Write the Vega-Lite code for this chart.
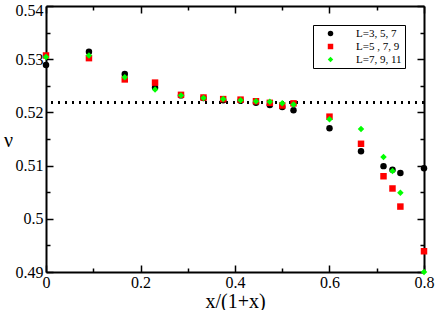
{
  "$schema": "https://vega.github.io/schema/vega-lite/v6.json",
  "width": 378,
  "height": 266,
  "autosize": "none",
  "padding": {"left": 46, "top": 6, "right": 12, "bottom": 38},
  "background": "white",
  "config": {
    "view": {"stroke": null},
    "font": "Liberation Serif",
    "axis": {
      "grid": false,
      "domainColor": "black",
      "domainWidth": 2,
      "tickColor": "black",
      "tickWidth": 1.5,
      "labelFont": "Liberation Serif",
      "labelFontSize": 16,
      "labelColor": "black",
      "labelOverlap": false,
      "labelFlush": false,
      "titleFont": "Liberation Serif",
      "titleFontWeight": "normal",
      "titleColor": "black",
      "titleFontSize": 20
    }
  },
  "datasets": {
    "pts": [
      {"s": "L=3, 5, 7", "x": 0, "y": 0.5289},
      {"s": "L=3, 5, 7", "x": 0.0909, "y": 0.5314},
      {"s": "L=3, 5, 7", "x": 0.1667, "y": 0.5272},
      {"s": "L=3, 5, 7", "x": 0.2308, "y": 0.5247},
      {"s": "L=3, 5, 7", "x": 0.2857, "y": 0.5232},
      {"s": "L=3, 5, 7", "x": 0.3333, "y": 0.5227},
      {"s": "L=3, 5, 7", "x": 0.375, "y": 0.5223},
      {"s": "L=3, 5, 7", "x": 0.4118, "y": 0.5222},
      {"s": "L=3, 5, 7", "x": 0.4444, "y": 0.5218},
      {"s": "L=3, 5, 7", "x": 0.4737, "y": 0.5214},
      {"s": "L=3, 5, 7", "x": 0.5, "y": 0.521},
      {"s": "L=3, 5, 7", "x": 0.5238, "y": 0.5204},
      {"s": "L=3, 5, 7", "x": 0.6, "y": 0.517},
      {"s": "L=3, 5, 7", "x": 0.6667, "y": 0.5127},
      {"s": "L=3, 5, 7", "x": 0.7143, "y": 0.5099},
      {"s": "L=3, 5, 7", "x": 0.7333, "y": 0.5092},
      {"s": "L=3, 5, 7", "x": 0.75, "y": 0.5086},
      {"s": "L=3, 5, 7", "x": 0.8, "y": 0.5095},
      {"s": "L=5 , 7, 9", "x": 0, "y": 0.5307},
      {"s": "L=5 , 7, 9", "x": 0.0909, "y": 0.5302},
      {"s": "L=5 , 7, 9", "x": 0.1667, "y": 0.5262},
      {"s": "L=5 , 7, 9", "x": 0.2308, "y": 0.5256},
      {"s": "L=5 , 7, 9", "x": 0.2857, "y": 0.5233},
      {"s": "L=5 , 7, 9", "x": 0.3333, "y": 0.5228},
      {"s": "L=5 , 7, 9", "x": 0.375, "y": 0.5225},
      {"s": "L=5 , 7, 9", "x": 0.4118, "y": 0.5224},
      {"s": "L=5 , 7, 9", "x": 0.4444, "y": 0.5221},
      {"s": "L=5 , 7, 9", "x": 0.4737, "y": 0.5218},
      {"s": "L=5 , 7, 9", "x": 0.5, "y": 0.5213},
      {"s": "L=5 , 7, 9", "x": 0.5238, "y": 0.5217},
      {"s": "L=5 , 7, 9", "x": 0.6, "y": 0.5192},
      {"s": "L=5 , 7, 9", "x": 0.6667, "y": 0.5141},
      {"s": "L=5 , 7, 9", "x": 0.7143, "y": 0.508},
      {"s": "L=5 , 7, 9", "x": 0.7333, "y": 0.5057},
      {"s": "L=5 , 7, 9", "x": 0.75, "y": 0.5023},
      {"s": "L=5 , 7, 9", "x": 0.8, "y": 0.4939},
      {"s": "L=7, 9, 11", "x": 0, "y": 0.5304},
      {"s": "L=7, 9, 11", "x": 0.0909, "y": 0.5307},
      {"s": "L=7, 9, 11", "x": 0.1667, "y": 0.5266},
      {"s": "L=7, 9, 11", "x": 0.2308, "y": 0.5243},
      {"s": "L=7, 9, 11", "x": 0.2857, "y": 0.5232},
      {"s": "L=7, 9, 11", "x": 0.3333, "y": 0.5227},
      {"s": "L=7, 9, 11", "x": 0.375, "y": 0.5225},
      {"s": "L=7, 9, 11", "x": 0.4118, "y": 0.5223},
      {"s": "L=7, 9, 11", "x": 0.4444, "y": 0.5221},
      {"s": "L=7, 9, 11", "x": 0.4737, "y": 0.522},
      {"s": "L=7, 9, 11", "x": 0.5, "y": 0.5217},
      {"s": "L=7, 9, 11", "x": 0.5238, "y": 0.5215},
      {"s": "L=7, 9, 11", "x": 0.6, "y": 0.5187},
      {"s": "L=7, 9, 11", "x": 0.6667, "y": 0.5169},
      {"s": "L=7, 9, 11", "x": 0.7143, "y": 0.5116},
      {"s": "L=7, 9, 11", "x": 0.7333, "y": 0.509},
      {"s": "L=7, 9, 11", "x": 0.75, "y": 0.5049},
      {"s": "L=7, 9, 11", "x": 0.8, "y": 0.49}
    ]
  },
  "data": {"name": "pts"},
  "resolve": {"axis": {"x": "independent", "y": "independent"}},
  "layer": [
    {
      "mark": {"type": "rule", "color": "black", "strokeWidth": 2, "strokeDash": [2, 5]},
      "encoding": {
        "y": {"datum": 0.5218, "type": "quantitative", "axis": null, "scale": {"domain": [0.49, 0.54], "nice": false, "zero": false}}
      }
    },
    {
      "mark": {"type": "point", "filled": true, "size": 42, "opacity": 1},
      "encoding": {
        "x": {
          "field": "x", "type": "quantitative",
          "scale": {"domain": [0, 0.8], "nice": false, "zero": false},
          "axis": {
            "orient": "bottom",
            "title": "x/(1+x)",
            "titleY": 29,
            "titleBaseline": "middle",
            "values": [0, 0.1, 0.2, 0.3, 0.4, 0.5, 0.6, 0.7, 0.8],
            "format": "~g",
            "labelExpr": "abs(datum.value*5 - round(datum.value*5)) < 0.001 ? datum.label : ''",
            "tickSize": {"condition": {"test": "abs(datum.value*5 - round(datum.value*5)) < 0.001", "value": -7}, "value": -4},
            "labelPadding": 9
          }
        },
        "y": {
          "field": "y", "type": "quantitative",
          "scale": {"domain": [0.49, 0.54], "nice": false, "zero": false},
          "axis": {
            "orient": "left",
            "title": "ν",
            "titleAngle": 0,
            "titleX": -38,
            "titleY": 134,
            "titleAlign": "center",
            "titleBaseline": "middle",
            "values": [0.49, 0.495, 0.5, 0.505, 0.51, 0.515, 0.52, 0.525, 0.53, 0.535, 0.54],
            "format": "~g",
            "labelExpr": "abs(datum.value*100 - round(datum.value*100)) < 0.001 ? datum.label : ''",
            "labelOffset": {"condition": {"test": "datum.value > 0.539", "value": 4}, "value": 0},
            "tickSize": {"condition": {"test": "abs(datum.value*100 - round(datum.value*100)) < 0.001", "value": -7}, "value": -4},
            "labelPadding": 10
          }
        },
        "color": {
          "field": "s", "type": "nominal", "sort": null,
          "scale": {"domain": ["L=3, 5, 7", "L=5 , 7, 9", "L=7, 9, 11"], "range": ["#000000", "#ff0000", "#00ff00"]},
          "legend": {
            "title": null,
            "orient": "none",
            "legendX": 267,
            "legendY": 19,
            "strokeColor": "black",
            "fillColor": "white",
            "padding": 3,
            "symbolOffset": 9,
            "labelOffset": 20,
            "labelFont": "Liberation Serif",
            "labelFontSize": 11,
            "labelColor": "black",
            "symbolSize": 30,
            "rowPadding": 1
          }
        },
        "shape": {
          "field": "s", "type": "nominal", "sort": null,
          "scale": {"domain": ["L=3, 5, 7", "L=5 , 7, 9", "L=7, 9, 11"], "range": ["circle", "square", "diamond"]},
          "legend": {
            "title": null,
            "orient": "none",
            "legendX": 267,
            "legendY": 19,
            "strokeColor": "black",
            "fillColor": "white",
            "padding": 3,
            "symbolOffset": 9,
            "labelOffset": 20,
            "labelFont": "Liberation Serif",
            "labelFontSize": 11,
            "labelColor": "black",
            "symbolSize": 30,
            "rowPadding": 1
          }
        }
      }
    },
    {
      "mark": {"type": "point", "opacity": 0},
      "encoding": {
        "x": {
          "field": "x", "type": "quantitative",
          "scale": {"domain": [0, 0.8], "nice": false, "zero": false},
          "axis": {
            "orient": "top", "title": null, "labels": false,
            "values": [0, 0.1, 0.2, 0.3, 0.4, 0.5, 0.6, 0.7, 0.8],
            "tickSize": {"condition": {"test": "abs(datum.value*5 - round(datum.value*5)) < 0.001", "value": -7}, "value": -4}
          }
        },
        "y": {
          "field": "y", "type": "quantitative",
          "scale": {"domain": [0.49, 0.54], "nice": false, "zero": false},
          "axis": {
            "orient": "right", "title": null, "labels": false,
            "values": [0.49, 0.495, 0.5, 0.505, 0.51, 0.515, 0.52, 0.525, 0.53, 0.535, 0.54],
            "tickSize": {"condition": {"test": "abs(datum.value*100 - round(datum.value*100)) < 0.001", "value": -7}, "value": -4}
          }
        }
      }
    }
  ]
}
